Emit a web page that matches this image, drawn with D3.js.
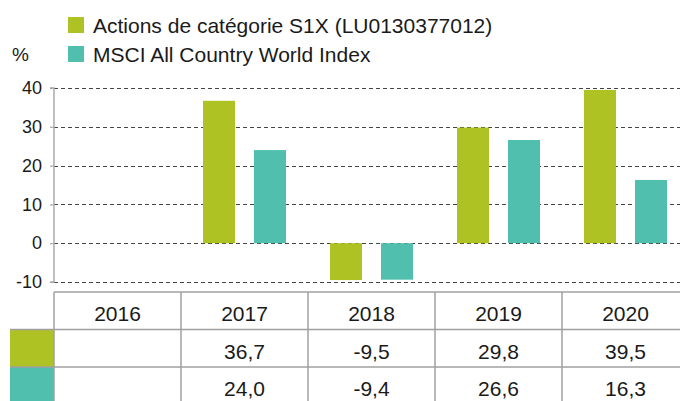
<!DOCTYPE html>
<html>
<head>
<meta charset="utf-8">
<script src="https://cdn.jsdelivr.net/npm/d3@7"></script>
<style>
  body { margin: 0; background: #fff; }
  svg { display: block; font-family: "Liberation Sans", Arial, sans-serif; }
</style>
</head>
<body>
<div id="chart"></div>
<script>
// data
const years = ['2016', '2017', '2018', '2019', '2020'];
const fundValues = [null, 36.7, -9.5, 29.8, 39.5];
const indexValues = [null, 24.0, -9.4, 26.6, 16.3];
const seriesNames = ['Actions de catégorie S1X (LU0130377012)', 'MSCI All Country World Index'];
const seriesColors = ['#afc224', '#50bfae'];
const yTicks = [-10, 0, 10, 20, 30, 40];

const width = 680, height = 401;
const plotLeft = 54, colWidth = 127;
const textColor = '#1a1a1a';

const svg = d3.select('#chart').append('svg')
  .attr('width', width)
  .attr('height', height);

const x = d3.scaleBand()
  .domain(years)
  .range([plotLeft, plotLeft + colWidth * years.length]);

const y = d3.scaleLinear()
  .domain([-10, 40])
  .range([282, 88]);

// hyphen-minus and decimal comma, as in the reference
const locale = d3.formatLocale({ decimal: ',', thousands: ' ', grouping: [3], currency: ['', ''], minus: '-' });
const fmt = v => v == null ? '' : locale.format('.1f')(v);

// legend
const legend = svg.append('g');
seriesNames.forEach((name, i) => {
  const base = 33 + i * 29;
  legend.append('rect')
    .attr('x', 68).attr('y', base - 16)
    .attr('width', 16).attr('height', 16)
    .attr('fill', seriesColors[i]);
  legend.append('text')
    .attr('x', 93).attr('y', base)
    .attr('font-size', 21)
    .attr('fill', textColor)
    .text(name);
});

svg.append('text')
  .attr('x', 12).attr('y', 61)
  .attr('font-size', 19)
  .attr('fill', textColor)
  .text('%');

// gridlines
svg.append('g')
  .selectAll('line')
  .data(yTicks)
  .join('line')
  .attr('x1', plotLeft).attr('x2', width)
  .attr('y1', d => Math.round(y(d)) + 0.5)
  .attr('y2', d => Math.round(y(d)) + 0.5)
  .attr('stroke', '#444')
  .attr('stroke-width', 1.2)
  .attr('stroke-dasharray', '4,3');

// y axis
const yAxis = svg.append('g')
  .attr('transform', `translate(${plotLeft},0)`)
  .call(d3.axisLeft(y).tickValues(yTicks).tickSize(4).tickPadding(8).tickFormat(locale.format('d')));
yAxis.select('.domain').attr('stroke', '#aaa').attr('stroke-width', 1.5).attr('d', `M-4,${y(40)}H0V${y(-10)}H-4`);
yAxis.selectAll('.tick line').attr('stroke', '#aaa').attr('stroke-width', 1.2);
yAxis.selectAll('.tick text')
  .attr('font-size', 18)
  .attr('font-family', '"Liberation Sans", Arial, sans-serif')
  .attr('fill', textColor);

// bars
const barW = 32, offset = 25.5;
const series = [fundValues, indexValues];
series.forEach((vals, si) => {
  svg.append('g')
    .selectAll('rect')
    .data(years.map((yr, i) => ({ yr, v: vals[i] })).filter(d => d.v != null))
    .join('rect')
    .attr('x', d => x(d.yr) + x.bandwidth() / 2 + (si === 0 ? -offset : offset) - barW / 2)
    .attr('width', barW)
    .attr('y', d => y(Math.max(0, d.v)))
    .attr('height', d => Math.abs(y(d.v) - y(0)))
    .attr('fill', seriesColors[si]);
});

// table
const tableTop = 292, rowH = 37.5;
const table = svg.append('g');
const gridColor = '#a0a0a0';

// swatch cells
series.forEach((_, si) => {
  table.append('rect')
    .attr('x', 10).attr('y', tableTop + rowH * (si + 1))
    .attr('width', plotLeft - 10).attr('height', rowH)
    .attr('fill', seriesColors[si]);
});

// horizontal lines
[0, 1, 2].forEach(r => {
  table.append('line')
    .attr('x1', r === 0 ? plotLeft : 10).attr('x2', width)
    .attr('y1', tableTop + rowH * r).attr('y2', tableTop + rowH * r)
    .attr('stroke', gridColor).attr('stroke-width', 1.5);
});

// vertical lines
years.forEach(yr => {
  table.append('line')
    .attr('x1', x(yr)).attr('x2', x(yr))
    .attr('y1', tableTop).attr('y2', height)
    .attr('stroke', gridColor).attr('stroke-width', 1.5);
});

// header
table.selectAll('.yr')
  .data(years)
  .join('text')
  .attr('x', d => x(d) + x.bandwidth() / 2)
  .attr('y', tableTop + 29)
  .attr('text-anchor', 'middle')
  .attr('font-size', 21)
  .attr('fill', textColor)
  .text(d => d);

series.forEach((vals, si) => {
  table.append('g')
    .selectAll('text')
    .data(years.map((yr, i) => ({ yr, v: vals[i] })))
    .join('text')
    .attr('x', d => x(d.yr) + x.bandwidth() / 2)
    .attr('y', tableTop + rowH * (si + 1) + 29)
    .attr('text-anchor', 'middle')
    .attr('font-size', 21)
    .attr('fill', textColor)
    .text(d => fmt(d.v));
});
</script>
</body>
</html>
